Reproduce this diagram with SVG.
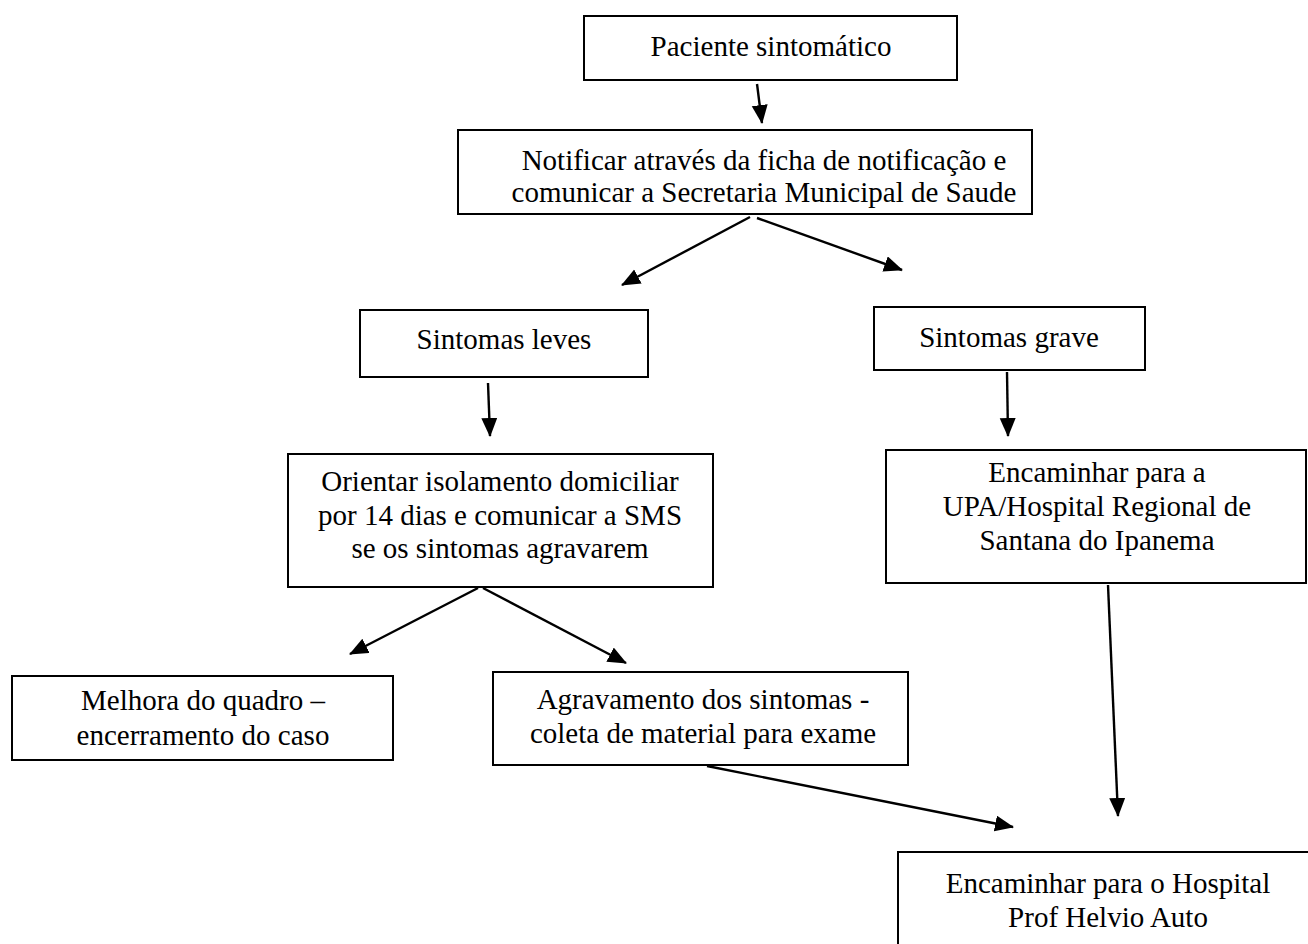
<svg xmlns="http://www.w3.org/2000/svg" width="1308" height="944" viewBox="0 0 1308 944">
<style>
.box{fill:#fff;stroke:#000;stroke-width:2}
.t{font-family:"Liberation Serif","Times New Roman",serif;font-size:29px;fill:#000;text-anchor:middle}
.c{stroke:#000;stroke-width:2.4;fill:none;marker-end:url(#ah)}
</style>
<defs>
<marker id="ah" markerUnits="userSpaceOnUse" markerWidth="20" markerHeight="18" refX="18" refY="8" orient="auto">
<path d="M0,0 L19,8 L0,16 Z" fill="#000"/>
</marker>
</defs>
<rect width="1308" height="944" fill="#fff"/>
<g id="connectors">
<line class="c" x1="757" y1="84" x2="762" y2="123"/>
<line class="c" x1="750" y1="217" x2="622" y2="285"/>
<line class="c" x1="757" y1="218" x2="902" y2="270"/>
<line class="c" x1="488" y1="383" x2="490" y2="436"/>
<line class="c" x1="1007" y1="372" x2="1008" y2="436"/>
<line class="c" x1="478" y1="588" x2="350" y2="654"/>
<line class="c" x1="483" y1="588" x2="626" y2="663"/>
<line class="c" x1="707" y1="766" x2="1013" y2="827"/>
<line class="c" x1="1108" y1="585" x2="1118" y2="816"/>
</g>
<g id="n1"><rect class="box" x="584" y="16" width="373" height="64"/><text class="t" x="771" y="56">Paciente sintomático</text></g>
<g id="n2"><rect class="box" x="458" y="130" width="574" height="84"/><text class="t" x="764" y="170">Notificar através da ficha de notificação e</text><text class="t" x="764" y="202">comunicar a Secretaria Municipal de Saude</text></g>
<g id="n3"><rect class="box" x="360" y="310" width="288" height="67"/><text class="t" x="504" y="349">Sintomas leves</text></g>
<g id="n4"><rect class="box" x="874" y="307" width="271" height="63"/><text class="t" x="1009" y="347">Sintomas grave</text></g>
<g id="n5"><rect class="box" x="288" y="454" width="425" height="133"/><text class="t" x="500" y="491">Orientar isolamento domiciliar</text><text class="t" x="500" y="525">por 14 dias e comunicar a SMS</text><text class="t" x="500" y="558">se os sintomas agravarem</text></g>
<g id="n6"><rect class="box" x="886" y="450" width="420" height="133"/><text class="t" x="1097" y="482">Encaminhar para a</text><text class="t" x="1097" y="516">UPA/Hospital Regional de</text><text class="t" x="1097" y="550">Santana do Ipanema</text></g>
<g id="n7"><rect class="box" x="12" y="676" width="381" height="84"/><text class="t" x="203" y="710">Melhora do quadro –</text><text class="t" x="203" y="745">encerramento do caso</text></g>
<g id="n8"><rect class="box" x="493" y="672" width="415" height="93"/><text class="t" x="703" y="709">Agravamento dos sintomas -</text><text class="t" x="703" y="743">coleta de material para exame</text></g>
<g id="n9"><rect class="box" x="898" y="852" width="422" height="110"/><text class="t" x="1108" y="893">Encaminhar para o Hospital</text><text class="t" x="1108" y="927">Prof Helvio Auto</text></g>
</svg>
